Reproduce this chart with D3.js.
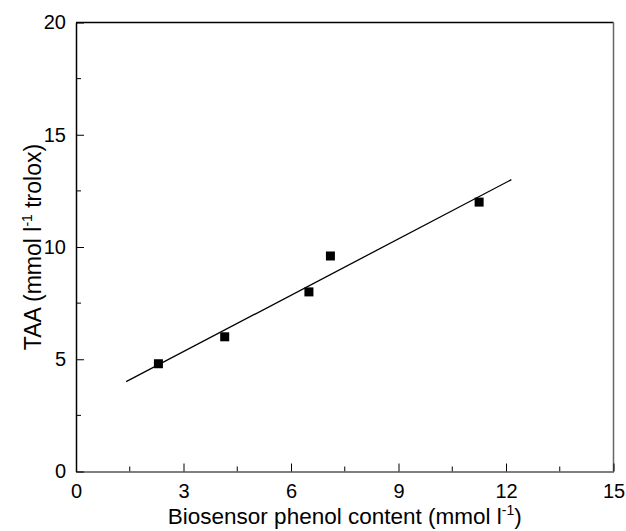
<!DOCTYPE html>
<html>
<head>
<meta charset="utf-8">
<script src="https://cdn.jsdelivr.net/npm/d3@7"></script>
<style>
  body { margin: 0; background: #fff; }
  text { font-family: "Liberation Sans", Arial, sans-serif; fill: #000; }
</style>
</head>
<body>
<div id="chart"></div>
<script>
// data
var phenol = [2.3, 4.15, 6.5, 7.1, 11.25];
var taa = [4.8, 6.0, 8.0, 9.6, 12.0];
// fitted line end points
var fitX = [1.4, 12.15];
var fitY = [4.0, 13.0];
var xTicks = [0, 3, 6, 9, 12, 15];
var yTicks = [0, 5, 10, 15, 20];

var svgWidth = 626;
var svgHeight = 531;

var margin = { top: 22.5, right: 12.5, bottom: 59.5, left: 76 };
var width = svgWidth - margin.left - margin.right;
var height = svgHeight - margin.top - margin.bottom;

var svg = d3.select("#chart").append("svg")
    .attr("width", svgWidth)
    .attr("height", svgHeight);

var g = svg.append("g")
    .attr("transform", `translate(${margin.left}, ${margin.top})`);

var x = d3.scaleLinear().domain([0, 15]).range([0, width]);
var y = d3.scaleLinear().domain([0, 20]).range([height, 0]);

// frame: top plain, right a bit grey
g.append("line").attr("x1", 0).attr("x2", width).attr("y1", 0).attr("y2", 0)
    .attr("stroke", "#000").attr("stroke-width", 1.5);
g.append("line").attr("x1", width).attr("x2", width).attr("y1", 0).attr("y2", height)
    .attr("stroke", "#666").attr("stroke-width", 1.5);

// minor ticks (inward)
var xMinor = d3.range(1.5, 15, 3);
var yMinor = d3.range(2.5, 20, 5);

g.selectAll(".xminor").data(xMinor).enter().append("line")
    .attr("x1", d => x(d)).attr("x2", d => x(d))
    .attr("y1", height).attr("y2", height - 5)
    .attr("stroke", "#000").attr("stroke-width", 1);
g.selectAll(".yminor").data(yMinor).enter().append("line")
    .attr("x1", 0).attr("x2", 5)
    .attr("y1", d => y(d)).attr("y2", d => y(d))
    .attr("stroke", "#000").attr("stroke-width", 1);

// bottom axis
var bottomAxis = d3.axisBottom(x).tickValues(xTicks).tickFormat(d3.format("d"))
    .tickSizeInner(-8).tickSizeOuter(0).tickPadding(12);
var gx = g.append("g").attr("transform", `translate(0, ${height})`).call(bottomAxis);
gx.select(".domain").attr("stroke", "#555").attr("stroke-width", 1.5);
gx.selectAll(".tick line").attr("stroke", "#000");
gx.selectAll("text").attr("font-size", "20px").attr("y", 26).attr("dy", 0);

// left axis
var leftAxis = d3.axisLeft(y).tickValues(yTicks).tickFormat(d3.format("d"))
    .tickSizeInner(-8).tickSizeOuter(0).tickPadding(10);
var gy = g.append("g").call(leftAxis);
gy.select(".domain").attr("stroke", "#000").attr("stroke-width", 1.5);
gy.selectAll(".tick line").attr("stroke", "#000");
gy.selectAll("text").attr("font-size", "20px");

// fit line
g.append("line")
    .attr("x1", x(fitX[0])).attr("y1", y(fitY[0]))
    .attr("x2", x(fitX[1])).attr("y2", y(fitY[1]))
    .attr("stroke", "#000").attr("stroke-width", 1.3);

// points
var s = 9;
g.selectAll("rect.pt").data(phenol).enter().append("rect")
    .attr("class", "pt")
    .attr("x", d => x(d) - s / 2)
    .attr("y", (d, i) => y(taa[i]) - s / 2)
    .attr("width", s).attr("height", s)
    .attr("fill", "#000");

// axis labels
var xl = svg.append("text")
    .attr("x", margin.left + width / 2)
    .attr("y", 524)
    .attr("text-anchor", "middle")
    .attr("font-size", "22.5px");
xl.append("tspan").text("Biosensor phenol content (mmol l");
xl.append("tspan").attr("dy", -9).attr("font-size", "14px").text("-1");
xl.append("tspan").attr("dy", 9).text(")");

var yl = svg.append("text")
    .attr("transform", `translate(41, ${margin.top + height / 2}) rotate(-90)`)
    .attr("text-anchor", "middle")
    .attr("font-size", "23px");
yl.append("tspan").text("TAA (mmol l");
yl.append("tspan").attr("dy", -9).attr("font-size", "14px").text("-1");
yl.append("tspan").attr("dy", 9).text(" trolox)");
</script>
</body>
</html>
